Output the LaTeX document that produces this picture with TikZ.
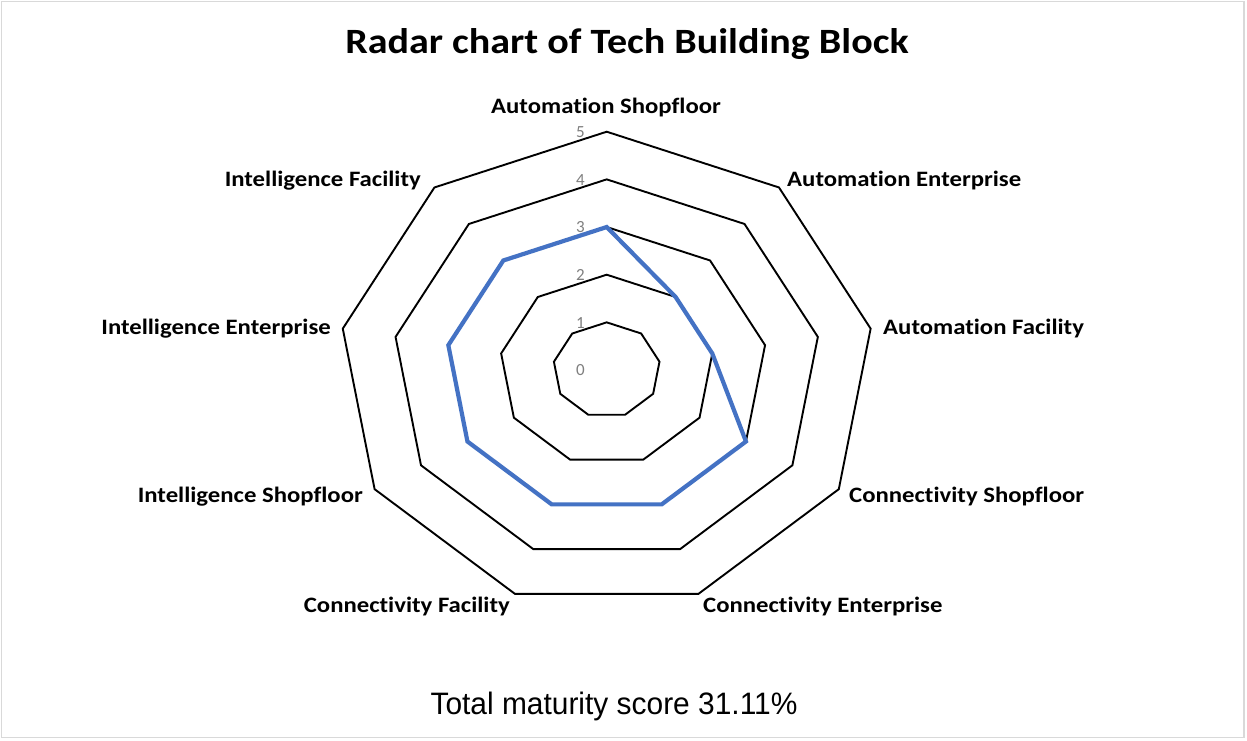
\documentclass[tikz,border=0pt]{standalone}
\usepackage{graphicx}
\usepackage{fontspec}
\setmainfont{Carlito}[Ligatures=NoCommon,RawFeature={-liga;-calt;-clig}]
\newfontfamily\arialf{Liberation Sans}
\definecolor{seriesblue}{HTML}{4472C4}
\definecolor{tickgray}{HTML}{7F7F7F}
\definecolor{framegray}{HTML}{D9D9D9}
\newcommand{\hs}[1]{\scalebox{1.125}[1]{#1}}
\begin{document}
\begin{tikzpicture}[x=1pt,y=1pt,
  ring/.style={draw=black,line width=1.9pt,line join=miter},
  series/.style={draw=seriesblue,line width=4.2pt,line join=miter},
  axlabel/.style={font=\fontsize{22}{25}\selectfont\bfseries,inner sep=0pt},
  ticklabel/.style={font=\fontsize{17}{20}\selectfont,text=tickgray,inner sep=0pt},
]
\useasboundingbox (0,0) rectangle (1247,-740);
\fill[white] (0,0) rectangle (1247,-740);
\draw[framegray,line width=1.5pt] (1.5,-1.5) rectangle (1244,-737.5);

% rings
\foreach \k in {1,...,5}
  \draw[ring] plot[samples at={0,...,8}] ({606.7+\k*53.6*cos(90-40*\x)},{-370+\k*47.66*sin(90-40*\x)}) -- cycle;

% series
\foreach \v [count=\i from 0] in {3,2,2,3,3,3,3,3,3}
  \coordinate (p\i) at ({606.7+\v*53.6*cos(90-40*\i)},{-370+\v*47.66*sin(90-40*\i)});
\draw[series] (p0)--(p1)--(p2)--(p3)--(p4)--(p5)--(p6)--(p7)--(p8)--cycle;

% tick labels
\foreach \k in {0,...,5}
  \node[ticklabel] (t\k) at (580.5,{-370+\k*47.66-0.5}) {\k};

% axis labels
\node[axlabel,anchor=base] (lAS) at (606,-113) {\hs{Automation Shopfloor}};
\node[axlabel,anchor=base west] (lAE) at (787,-186) {\hs{Automation Enterprise}};
\node[axlabel,anchor=base west] (lAF) at (883,-334) {\hs{Automation Facility}};
\node[axlabel,anchor=base west] (lCS) at (849,-502) {\hs{Connectivity Shopfloor}};
\node[axlabel,anchor=base west] (lCE) at (703,-612) {\hs{Connectivity Enterprise}};
\node[axlabel,anchor=base east] (lCF) at (510,-612) {\hs{Connectivity Facility}};
\node[axlabel,anchor=base east] (lIS) at (363,-502) {\hs{Intelligence Shopfloor}};
\node[axlabel,anchor=base east] (lIE) at (331,-334) {\hs{Intelligence Enterprise}};
\node[axlabel,anchor=base east] (lIF) at (421,-186) {\hs{Intelligence Facility}};

% title and footer
\node[font=\fontsize{35.6}{40}\selectfont\bfseries,anchor=base,inner sep=0pt] (title) at (627,-53) {\hs{Radar chart of Tech Building Block}};
\node[font=\arialf\fontsize{31}{36}\selectfont,anchor=base,inner sep=0pt] (total) at (614,-714) {\scalebox{0.965}[1]{Total maturity score 31.11\%}};
\end{tikzpicture}
\end{document}
